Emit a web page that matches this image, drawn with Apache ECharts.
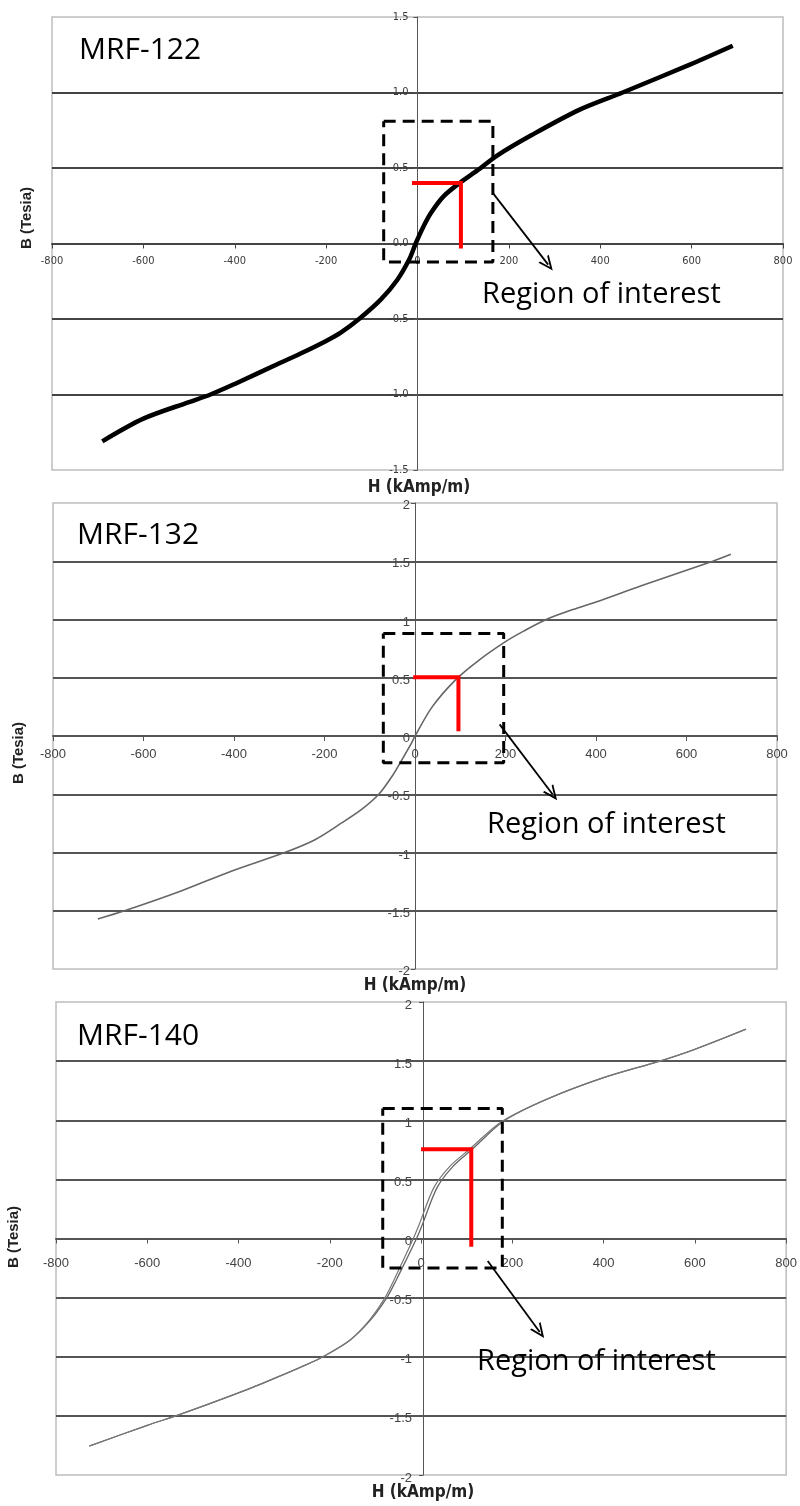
<!DOCTYPE html>
<html><head><meta charset="utf-8">
<script src="https://cdn.jsdelivr.net/npm/echarts@6/dist/echarts.min.js"></script>
<style>html,body{margin:0;padding:0;background:#fff}#c{width:800px;height:1506px}</style>
</head><body><div id="c"></div>
<script>
// ---------- data (H in kAmp/m, B in Tesla) ----------
const xTickLabels = ['-800','-600','-400','-200','0','200','400','600','800'];
const yTickLabels122 = ['-1.5','-1.0','-0.5','0.0','0.5','1.0','1.5'];
const yTickLabels132 = ['-2','-1.5','-1','-0.5','0','0.5','1','1.5','2'];
const yTickLabels140 = ['-2','-1.5','-1','-0.5','0','0.5','1','1.5','2'];

const H122 = [-690,-600,-500,-453,-400,-300,-250,-200,-168,-128,-80,-44,-18,-4,11,29,58,95,131,175,251,354,449,600,690];
const B122 = [-1.31,-1.16,-1.05,-1.00,-0.93,-0.79,-0.72,-0.645,-0.59,-0.50,-0.37,-0.24,-0.105,0,0.10,0.20,0.315,0.407,0.484,0.584,0.72,0.885,1.00,1.19,1.31];

const H132 = [-701,-642,-517,-406,-288,-221,-162,-118,-80,-51,-29,-10,0,38,89,141,200,240,290,349,400,500,658,698];
const B132 = [-1.57,-1.50,-1.33,-1.16,-1.00,-0.89,-0.746,-0.63,-0.50,-0.348,-0.205,-0.077,0,0.25,0.48,0.65,0.81,0.90,1.00,1.085,1.15,1.29,1.50,1.56];

const H140a = [-727,-600,-530,-383,-295,-250,-215,-156,-112,-75,-53,-35,-10,4,35,70,112,180,277,400,523,600,712];
const B140a = [-1.755,-1.58,-1.49,-1.28,-1.14,-1.065,-1.00,-0.86,-0.695,-0.50,-0.34,-0.20,0,0.13,0.43,0.61,0.755,0.99,1.18,1.36,1.50,1.60,1.77];
const H140b = [-727,-600,-530,-383,-295,-250,-215,-156,-114,-79,-58,-41,-17,-3,28,63,106,177,277,400,523,600,712];
const B140b = [-1.755,-1.58,-1.49,-1.28,-1.14,-1.065,-1.00,-0.86,-0.695,-0.50,-0.34,-0.20,0,0.13,0.43,0.61,0.755,0.99,1.18,1.36,1.50,1.60,1.77];

// annotation geometry in data units: [Hmin, Hmax, Bmin, Bmax]
const roiBox122 = [-74, 165, -0.123, 0.81];
const roiBox132 = [-70, 196, -0.23, 0.88];
const roiBox140 = [-84, 178, -0.25, 1.10];
// red L marker: [Hstart, Hcorner, Bcorner, Bend]
const redL122 = [-12, 95, 0.40, -0.033];
const redL132 = [-4, 96, 0.505, 0.04];
const redL140 = [0, 110, 0.755, -0.07];
// arrows: [H0, B0, H1, B1]
const arrow122 = [166, 0.33, 286, -0.14];
const arrow132 = [187, 0.10, 304, -0.50];
const arrow140 = [146, -0.19, 260, -0.79];

const titles = ['MRF-122','MRF-132','MRF-140'];
const roiText = 'Region of interest';
const xName = 'H (kAmp/m)';
const yName = 'B (Tesia)';

// ---------- build ----------
const NARROW = '"DejaVu Sans Condensed", "Liberation Sans", Arial, sans-serif';
const SANS = '"Liberation Sans", Arial, sans-serif';
const zip = (a, b) => a.map((v, i) => [v, b[i]]);
const boxPts = b => [[b[0],b[3]],[b[1],b[3]],[b[1],b[2]],[b[0],b[2]],[b[0],b[3]]];
const lPts = l => [[l[0],l[2]],[l[1],l[2]],[l[1],l[3]]];
const chevron = 'path://M5,0 L10,11 L8.5,11 L5,3.4 L1.5,11 L0,11 Z';
const XMIN = -800, XMAX = 800, XSTEP = 200;

const panels = [
  {grid:{left:52, top:17, width:731, height:453}, ymin:-1.5, ymax:1.5, ylab:yTickLabels122,
   lab:{font:NARROW, size:11, xsize:11, color:'#3a3a3a', xm:12, ym:9, va:'middle', lh:12},
   grid_c:'#444', box:roiBox122, red:redL122, arrow:arrow122},
  {grid:{left:53, top:503, width:724, height:466}, ymin:-2, ymax:2, ylab:yTickLabels132,
   lab:{font:SANS, size:13, xsize:13, color:'#444', xm:12, ym:5, va:'top', lh:5},
   grid_c:'#555', box:roiBox132, red:redL132, arrow:arrow132},
  {grid:{left:56, top:1002, width:734, height:473}, ymin:-2, ymax:2, ylab:yTickLabels140,
   lab:{font:SANS, size:13, xsize:13, color:'#444', xm:18, ym:11, va:'top', lh:6},
   grid_c:'#555', box:roiBox140, red:redL140, arrow:arrow140}
];

const grid = [], xAxis = [], yAxis = [], series = [];
panels.forEach((p, i) => {
  grid.push(Object.assign({show:true, borderColor:'#bdbdbd', borderWidth:1.5, backgroundColor:'#fff'}, p.grid));
  // place the axes through the origin (zero) of the other axis
  const xOff = -p.grid.height * (0 - p.ymin) / (p.ymax - p.ymin);
  const yOff = -p.grid.width * (0 - XMIN) / (XMAX - XMIN);
  xAxis.push({
    type:'value', gridIndex:i, min:XMIN, max:XMAX, interval:XSTEP, position:'bottom', offset:xOff,
    axisLine:{onZero:false, lineStyle:{color:p.grid_c, width:2}},
    axisTick:{show:true, length:5, lineStyle:{color:p.grid_c}},
    splitLine:{show:false},
    axisLabel:{fontFamily:p.lab.font, fontSize:p.lab.xsize, color:p.lab.color, margin:p.lab.xm,
      formatter:v => xTickLabels[Math.round((v - XMIN) / XSTEP)]}
  });
  yAxis.push({
    type:'value', gridIndex:i, min:p.ymin, max:p.ymax, interval:0.5, position:'left', offset:yOff,
    axisLine:{onZero:false, lineStyle:{color:'#555', width:1}},
    axisTick:{show:true, length:4, lineStyle:{color:'#555'}},
    splitLine:{show:true, showMinLine:false, showMaxLine:false, lineStyle:{color:p.grid_c, width:2}},
    axisLabel:{fontFamily:p.lab.font, fontSize:p.lab.size, color:p.lab.color, margin:p.lab.ym,
      verticalAlign:p.lab.va, lineHeight:p.lab.lh,
      formatter:v => p.ylab[Math.round((v - p.ymin) / 0.5)]}
  });
});

// curves
series.push({type:'line', xAxisIndex:0, yAxisIndex:0, data:zip(H122,B122), showSymbol:false, smooth:0.3,
  lineStyle:{color:'#000', width:4.5}, z:2, silent:true});
series.push({type:'line', xAxisIndex:1, yAxisIndex:1, data:zip(H132,B132), showSymbol:false, smooth:0.3,
  lineStyle:{color:'#666', width:1.6}, z:2, silent:true});
series.push({type:'line', xAxisIndex:2, yAxisIndex:2, data:zip(H140a,B140a), showSymbol:false, smooth:0.3,
  lineStyle:{color:'#666', width:1.3}, z:2, silent:true});
series.push({type:'line', xAxisIndex:2, yAxisIndex:2, data:zip(H140b,B140b), showSymbol:false, smooth:0.3,
  lineStyle:{color:'#777', width:1.2}, z:2, silent:true});

// annotations
panels.forEach((p, i) => {
  series.push({type:'line', xAxisIndex:i, yAxisIndex:i, data:lPts(p.red), showSymbol:false,
    lineStyle:{color:'#ff0000', width:4, join:'miter', cap:'butt'}, z:4, silent:true});
  series.push({type:'line', xAxisIndex:i, yAxisIndex:i, data:boxPts(p.box), showSymbol:false,
    lineStyle:{color:'#000', width:3, type:[12,7]}, z:5, silent:true,
    markLine:{silent:true, animation:false, symbol:['none', chevron], symbolSize:[13,15],
      label:{show:false}, lineStyle:{color:'#000', width:1.8, type:'solid'},
      data:[[{coord:[p.arrow[0], p.arrow[1]]}, {coord:[p.arrow[2], p.arrow[3]]}]]}});
});

const txt = (x, y, text, font) => ({type:'text', x, y, silent:true, z:100,
  style:{text, font, fill:'#000', textAlign:'left', textVerticalAlign:'middle'}});
const ctxt = (x, y, text, font, rot) => ({type:'text', x, y, rotation:rot || 0, silent:true, z:100,
  style:{text, font, fill:'#222', textAlign:'center', textVerticalAlign:'middle'}});
const graphic = [
  txt(79, 50, titles[0], '30px "Open Sans"'),
  txt(77, 535, titles[1], '30px "Open Sans"'),
  txt(77, 1036, titles[2], '30px "Open Sans"'),
  txt(482, 295, roiText, '29px "Open Sans"'),
  txt(487, 825, roiText, '29px "Open Sans"'),
  txt(477, 1362, roiText, '29px "Open Sans"'),
  ctxt(419, 488, xName, 'bold 17px ' + NARROW),
  ctxt(415, 986, xName, 'bold 17px ' + NARROW),
  ctxt(423, 1493, xName, 'bold 17px ' + NARROW),
  ctxt(27, 218, yName, 'bold 15px ' + SANS, Math.PI/2),
  ctxt(19, 753, yName, 'bold 15px ' + SANS, Math.PI/2),
  ctxt(14, 1237, yName, 'bold 15px ' + SANS, Math.PI/2)
];

const chart = echarts.init(document.getElementById('c'), null, {renderer:'canvas'});
chart.setOption({animation:false, backgroundColor:'#fff', grid, xAxis, yAxis, series, graphic});
</script></body></html>
